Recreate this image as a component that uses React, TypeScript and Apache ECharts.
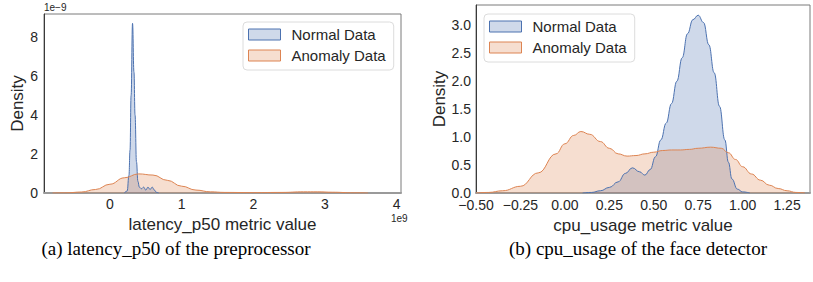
import React, { useEffect, useRef } from 'react';
import * as echarts from 'echarts';

// (a) latency_p50 — x in units of 1e9, density in units of 1e-9
const LAT_NORMAL_X = [0.20, 0.24, 0.265, 0.28, 0.295, 0.315, 0.335, 0.35, 0.37, 0.39, 0.41, 0.44, 0.47, 0.50, 0.53, 0.56, 0.59, 0.62, 0.65, 0.68];
const LAT_NORMAL_Y = [0, 0.1, 0.9, 2.2, 5.0, 8.7, 6.2, 4.0, 1.6, 0.6, 0.3, 0.22, 0.3, 0.15, 0.3, 0.18, 0.3, 0.15, 0.03, 0];
const LAT_ANOMALY_X = [-0.8, -0.6, -0.4, -0.2, 0, 0.2, 0.4, 0.6, 0.8, 1.0, 1.2, 1.4, 1.6, 2.0, 2.4, 2.7, 2.9, 3.1, 3.4, 3.6];
const LAT_ANOMALY_Y = [0, 0.01, 0.05, 0.18, 0.45, 0.78, 0.98, 0.92, 0.65, 0.35, 0.15, 0.06, 0.03, 0.02, 0.03, 0.06, 0.06, 0.04, 0.01, 0];

// (b) cpu_usage
const CPU_NORMAL_X = [0.10, 0.15, 0.20, 0.25, 0.30, 0.34, 0.38, 0.42, 0.45, 0.48, 0.51, 0.54, 0.57, 0.60, 0.63, 0.66, 0.69, 0.72, 0.75, 0.78, 0.81, 0.84, 0.87, 0.90, 0.92, 0.94, 0.97, 1.00, 1.04];
const CPU_NORMAL_Y = [0, 0.01, 0.04, 0.10, 0.20, 0.35, 0.45, 0.38, 0.32, 0.42, 0.65, 0.95, 1.25, 1.6, 2.0, 2.42, 2.85, 3.1, 3.18, 3.05, 2.65, 2.15, 1.55, 0.95, 0.55, 0.25, 0.07, 0.02, 0];
const CPU_ANOMALY_X = [-0.50, -0.43, -0.35, -0.25, -0.15, -0.05, 0.0, 0.05, 0.09, 0.14, 0.20, 0.25, 0.30, 0.35, 0.40, 0.45, 0.50, 0.55, 0.60, 0.65, 0.70, 0.75, 0.82, 0.88, 0.92, 0.96, 1.00, 1.05, 1.10, 1.15, 1.20, 1.25, 1.30, 1.35];
const CPU_ANOMALY_Y = [0, 0.01, 0.04, 0.12, 0.36, 0.70, 0.88, 1.03, 1.10, 1.05, 0.92, 0.80, 0.70, 0.66, 0.67, 0.70, 0.73, 0.76, 0.77, 0.77, 0.78, 0.80, 0.82, 0.80, 0.72, 0.60, 0.47, 0.34, 0.23, 0.14, 0.08, 0.04, 0.01, 0];

const SERIES_NAMES = ['Normal Data', 'Anomaly Data'];
const LAT_X_TICKS = [0, 1, 2, 3, 4];
const CPU_X_TICKS = [-0.5, -0.25, 0, 0.25, 0.5, 0.75, 1.0, 1.25];
const CAPTIONS = ['(a) latency_p50 of the preprocessor', '(b) cpu_usage of the face detector'];

const BLUE = '#4c72b0';
const ORANGE = '#dd8452';
const FONT = 'Liberation Sans, Arial, sans-serif';
const SERIF = 'Liberation Serif, Times New Roman, serif';

const zip = (xs: number[], ys: number[]) => xs.map((x, i) => [x, ys[i]]);
const isMult = (v: number, step: number) => Math.abs(v / step - Math.round(v / step)) < 1e-6;

function kde(name: string, color: string, data: number[][], idx: number) {
  return {
    type: 'line',
    name,
    xAxisIndex: idx,
    yAxisIndex: idx,
    data,
    smooth: 0.45,
    smoothMonotone: 'x',
    symbol: 'none',
    lineStyle: { color, width: 1 },
    itemStyle: { color },
    areaStyle: { color, opacity: 0.27 },
  };
}

function legend(left: number, top: number) {
  return {
    left,
    top,
    orient: 'vertical',
    icon: 'rect',
    itemWidth: 32,
    itemHeight: 11,
    itemGap: 6,
    padding: [5, 8, 7, 5],
    backgroundColor: '#fff',
    borderColor: '#dcdcdc',
    borderWidth: 1,
    borderRadius: 4,
    textStyle: { fontSize: 15, color: '#262626', fontFamily: FONT, lineHeight: 15, padding: [0, 0, 0, 6] },
    data: [
      { name: SERIES_NAMES[0], itemStyle: { color: 'rgba(76,114,176,0.27)', borderColor: BLUE, borderWidth: 1 } },
      { name: SERIES_NAMES[1], itemStyle: { color: 'rgba(221,132,82,0.27)', borderColor: ORANGE, borderWidth: 1 } },
    ],
  };
}

export default function App() {
  const ref = useRef<HTMLDivElement>(null);
  useEffect(() => {
    if (!ref.current) return;
    const chart = echarts.init(ref.current, null, { renderer: 'svg' });
    const axisLabel = { fontSize: 14, color: '#262626', fontFamily: FONT };
    const nameStyle = { fontSize: 17, color: '#262626', fontFamily: FONT };
    chart.setOption({
      animation: false,
      backgroundColor: '#fff',
      grid: [
        { left: 44, top: 14, width: 357, height: 179, show: true, borderColor: '#7a7a7a', borderWidth: 1 },
        { left: 476, top: 5, width: 342, height: 188, show: true, borderColor: '#7a7a7a', borderWidth: 1 },
      ],
      xAxis: [
        {
          type: 'value', gridIndex: 0, min: -0.92, max: 4.06,
          minInterval: 1, maxInterval: 1,
          splitLine: { show: false }, axisTick: { show: false },
          axisLine: { show: true, onZero: false, lineStyle: { color: '#9a9a9a', width: 2 } },
          axisLabel: { ...axisLabel, margin: 4, formatter: (v: number) => (LAT_X_TICKS.some((t) => Math.abs(t - v) < 1e-6) ? String(Math.round(v)) : '') },
          name: 'latency_p50 metric value', nameLocation: 'middle', nameGap: 16, nameTextStyle: nameStyle,
        },
        {
          type: 'value', gridIndex: 1, min: -0.5, max: 1.379, interval: 0.25,
          splitLine: { show: false }, axisTick: { show: false },
          axisLine: { show: true, onZero: false, lineStyle: { color: '#9a9a9a', width: 2 } },
          axisLabel: { ...axisLabel, margin: 5, formatter: (v: number) => (CPU_X_TICKS.some((t) => Math.abs(t - v) < 1e-6) ? v.toFixed(2).replace('-', '\u2212') : '') },
          name: 'cpu_usage metric value', nameLocation: 'middle', nameGap: 16, nameTextStyle: nameStyle,
        },
      ],
      yAxis: [
        {
          type: 'value', gridIndex: 0, min: 0, max: 9.18, interval: 2,
          splitLine: { show: false }, axisTick: { show: false },
          axisLine: { show: true, onZero: false, lineStyle: { color: '#3a3a3a', width: 1 } },
          axisLabel: { ...axisLabel, margin: 6, formatter: (v: number) => (isMult(v, 2) ? String(Math.round(v)) : '') },
          name: 'Density', nameLocation: 'middle', nameGap: 15, nameTextStyle: nameStyle,
        },
        {
          type: 'value', gridIndex: 1, min: 0, max: 3.363, interval: 0.5,
          splitLine: { show: false }, axisTick: { show: false },
          axisLine: { show: true, onZero: false, lineStyle: { color: '#3a3a3a', width: 1 } },
          axisLabel: { ...axisLabel, margin: 5, formatter: (v: number) => (isMult(v, 0.5) ? v.toFixed(1) : '') },
          name: 'Density', nameLocation: 'middle', nameGap: 27, nameTextStyle: nameStyle,
        },
      ],
      legend: [legend(243, 22), legend(484, 14)],
      series: [
        kde(SERIES_NAMES[0], BLUE, zip(LAT_NORMAL_X, LAT_NORMAL_Y), 0),
        kde(SERIES_NAMES[1], ORANGE, zip(LAT_ANOMALY_X, LAT_ANOMALY_Y), 0),
        kde(SERIES_NAMES[0], BLUE, zip(CPU_NORMAL_X, CPU_NORMAL_Y), 1),
        kde(SERIES_NAMES[1], ORANGE, zip(CPU_ANOMALY_X, CPU_ANOMALY_Y), 1),
      ],
      graphic: [
        { type: 'text', left: 44, top: 2, style: { text: '1e\u22129', fontSize: 10, fill: '#262626', fontFamily: FONT } },
        { type: 'text', left: 391, top: 213, style: { text: '1e9', fontSize: 10, fill: '#262626', fontFamily: FONT } },
        { type: 'text', x: 176, y: 248, style: { text: CAPTIONS[0], fontSize: 19, fill: '#000', fontFamily: SERIF, align: 'center', verticalAlign: 'middle' } },
        { type: 'text', x: 638, y: 248, style: { text: CAPTIONS[1], fontSize: 19, fill: '#000', fontFamily: SERIF, align: 'center', verticalAlign: 'middle' } },
      ],
    });
    return () => chart.dispose();
  }, []);
  return <div ref={ref} style={{ position: 'absolute', left: 0, top: 0, width: 813, height: 282, overflow: 'hidden' }} />;
}
